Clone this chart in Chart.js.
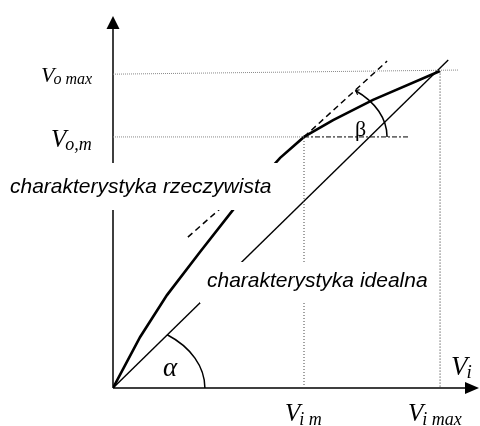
<!DOCTYPE html>
<html>
<head>
<meta charset="utf-8">
<style>
  body { margin: 0; background: #fff; }
  #wrap { width: 480px; height: 426px; }
</style>
</head>
<body>
<div id="wrap"><canvas id="canvasCharakt" width="480" height="426"></canvas></div>

<script src="https://cdn.jsdelivr.net/npm/chart.js@4.4.6/dist/chart.umd.min.js"></script>
<script>
// jednostki znormalizowane: Vi max = 1, Vo max = 1
const viMax = 1.0, viM = 0.584;
const voMax = 1.0, voM = 0.792;
const xMax = 1.116, yMax = 1.1735;

// charakterystyka rzeczywista
const realX = [0, 0.083, 0.165, 0.266, 0.367, 0.511, 0.584, 0.673, 0.795, 1.0];
const realY = [0, 0.161, 0.293, 0.429, 0.562, 0.726, 0.792, 0.845, 0.909, 1.0];

// charakterystyka idealna
const idealX = [0, 1.025];
const idealY = [0, 1.035];

// styczne (przerywane)
const tanGoraX = [0.584, 0.838];
const tanGoraY = [0.792, 1.031];
const tanDolX = [0.229, 0.338];
const tanDolY = [0.476, 0.575];

// linie pomocnicze
const voMaxLiniaX = [0, 1.055];
const voMaxLiniaY = [0.99, 1.003];
const voMLiniaX = [0, viM];
const voMLiniaY = [voM, voM];
const betaBazaX = [viM, 0.908];
const betaBazaY = [voM, voM];
const viMLiniaX = [viM, viM];
const viMLiniaY = [0, voM];
const viMaxLiniaX = [viMax, viMax];
const viMaxLiniaY = [-0.005, voMax];

function pts(xs, ys) {
  return xs.map(function (x, i) { return { x: x, y: ys[i] }; });
}

function linia(xs, ys, kolor, grubosc, dash) {
  return {
    data: pts(xs, ys),
    showLine: true,
    borderColor: kolor,
    borderWidth: grubosc,
    borderDash: dash || [],
    pointRadius: 0,
    fill: false,
    tension: 0
  };
}

const SERIF = '"Liberation Serif", "DejaVu Serif", serif';
const SANS = '"Liberation Sans", Arial, sans-serif';

function napisV(ctx, sub, x, y, rozm, rozmSub, dySub) {
  ctx.font = 'italic ' + rozm + 'px ' + SERIF;
  ctx.fillText('V', x, y);
  const w = ctx.measureText('V').width;
  ctx.font = 'italic ' + rozmSub + 'px ' + SERIF;
  ctx.fillText(sub, x + w - 1, y + dySub);
}

const schemat = {
  id: 'schemat',
  beforeDatasetsDraw(chart) {
    const ctx = chart.ctx;
    const sx = chart.scales.x, sy = chart.scales.y;
    const x0 = sx.getPixelForValue(0), y0 = sy.getPixelForValue(0);
    const top = chart.chartArea.top, right = chart.chartArea.right;
    ctx.save();
    ctx.strokeStyle = '#000';
    ctx.fillStyle = '#000';
    ctx.lineWidth = 1.5;
    ctx.beginPath();
    ctx.moveTo(x0, y0);
    ctx.lineTo(x0, top + 12);
    ctx.moveTo(x0, y0);
    ctx.lineTo(right - 12, y0);
    ctx.stroke();
    // strzałki
    ctx.beginPath();
    ctx.moveTo(x0, top);
    ctx.lineTo(x0 - 6.5, top + 13);
    ctx.lineTo(x0 + 6.5, top + 13);
    ctx.closePath();
    ctx.fill();
    ctx.beginPath();
    ctx.moveTo(right + 1, y0);
    ctx.lineTo(right - 13, y0 - 6);
    ctx.lineTo(right - 13, y0 + 6);
    ctx.closePath();
    ctx.fill();
    ctx.restore();
  },
  afterDatasetsDraw(chart) {
    const ctx = chart.ctx;
    const sx = chart.scales.x, sy = chart.scales.y;
    const x0 = sx.getPixelForValue(0), y0 = sy.getPixelForValue(0);
    const kx = sx.getPixelForValue(1) - x0;
    const ky = y0 - sy.getPixelForValue(1);
    ctx.save();
    ctx.strokeStyle = '#000';
    ctx.fillStyle = '#000';

    // kąt alfa
    ctx.lineWidth = 1.5;
    ctx.beginPath();
    ctx.ellipse(x0, y0, 0.281 * kx, 0.208 * ky, 0, -0.94, 0);
    ctx.stroke();

    // kąt beta
    const bx = sx.getPixelForValue(viM), by = sy.getPixelForValue(voM);
    ctx.beginPath();
    ctx.ellipse(bx, by, 0.254 * kx, 0.186 * ky, 0, -0.90, 0);
    ctx.stroke();
    // mały grot na końcu łuku beta
    const ex = bx + 0.254 * kx * Math.cos(0.90), ey = by - 0.186 * ky * Math.sin(0.90);
    ctx.lineWidth = 1.2;
    ctx.beginPath();
    ctx.moveTo(ex + 4, ey - 1);
    ctx.lineTo(ex, ey);
    ctx.lineTo(ex + 2, ey + 4);
    ctx.stroke();

    // białe tła pod napisami
    ctx.fillStyle = '#fff';
    ctx.fillRect(0, 163, 282, 47);
    ctx.fillRect(200, 262, 237, 41);
    ctx.fillStyle = '#000';

    ctx.font = 'italic 21px ' + SANS;
    ctx.fillText('charakterystyka rzeczywista', 10, 193);
    ctx.fillText('charakterystyka idealna', 207, 287);

    // greckie litery
    ctx.font = 'italic 27px ' + SERIF;
    ctx.fillText('α', 163, 376);
    ctx.font = '22px ' + SERIF;
    ctx.fillText('β', 355, 136);

    // opisy osi
    napisV(ctx, 'o max', 41, 82, 22, 16, 2);
    napisV(ctx, 'o,m', 51, 147, 25, 18, 3);
    napisV(ctx, 'i', 451, 375, 27, 19, 3);
    napisV(ctx, 'i m', sx.getPixelForValue(viM) - 19, 421, 25, 18, 4);
    napisV(ctx, 'i max', sx.getPixelForValue(viMax) - 32, 421, 25, 18, 4);
    ctx.restore();
  }
};

new Chart(document.getElementById('canvasCharakt'), {
  type: 'scatter',
  data: {
    datasets: [
      linia(voMaxLiniaX, voMaxLiniaY, '#888', 1, [1, 1]),
      linia(voMLiniaX, voMLiniaY, '#888', 1, [1, 1]),
      linia(viMLiniaX, viMLiniaY, '#444', 1, [1, 2]),
      linia(viMaxLiniaX, viMaxLiniaY, '#222', 1, [1, 2]),
      linia(betaBazaX, betaBazaY, '#000', 1, [5, 2, 2, 2]),
      linia(tanGoraX, tanGoraY, '#000', 1.5, [6, 4]),
      linia(tanDolX, tanDolY, '#000', 1.5, [6, 4]),
      linia(idealX, idealY, '#000', 1.4),
      linia(realX, realY, '#000', 2.6)
    ]
  },
  options: {
    responsive: false,
    animation: false,
    events: [],
    layout: { padding: { left: 113, right: 2, top: 16, bottom: 38 } },
    scales: {
      x: { type: 'linear', min: 0, max: xMax, display: false },
      y: { type: 'linear', min: 0, max: yMax, display: false }
    },
    plugins: {
      legend: { display: false },
      tooltip: { enabled: false }
    }
  },
  plugins: [schemat]
});
</script>
</body>
</html>
